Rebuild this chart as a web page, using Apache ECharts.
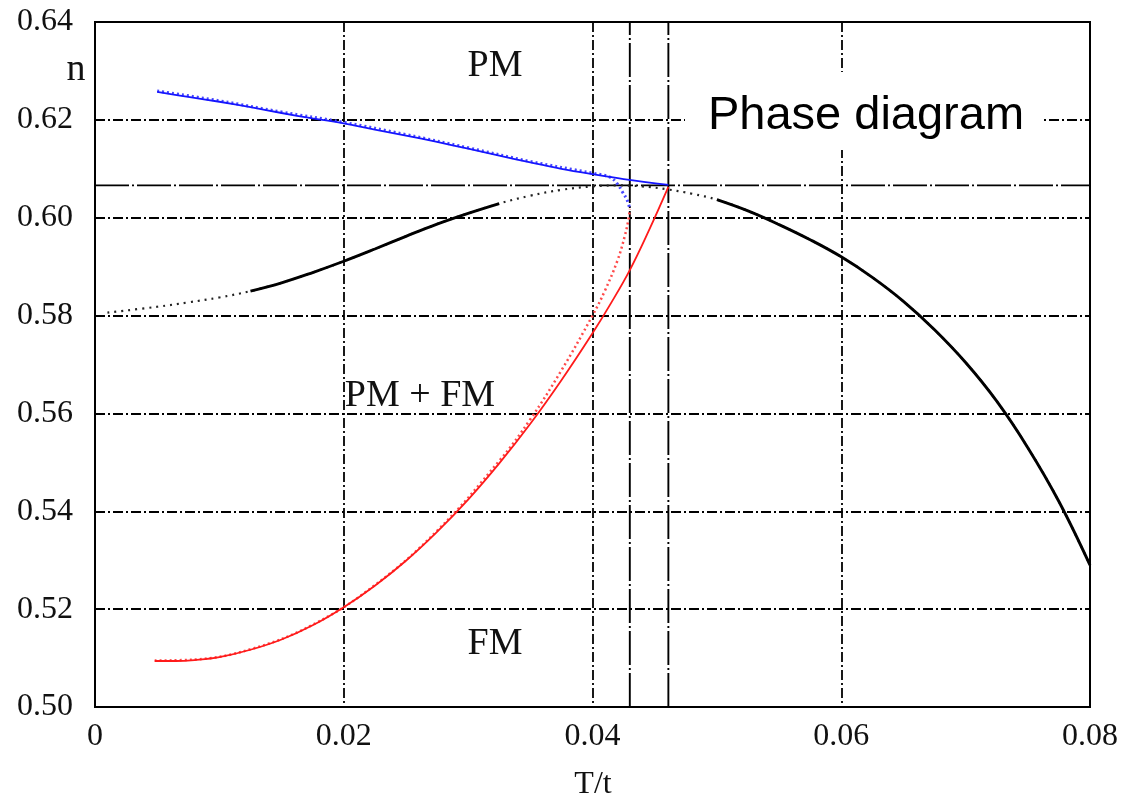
<!DOCTYPE html>
<html>
<head>
<meta charset="utf-8">
<title>Phase diagram</title>
<script src="https://cdn.jsdelivr.net/npm/echarts@6/dist/echarts.min.js"></script>
<style>
  html, body { margin: 0; padding: 0; background: #fff; }
  #chart { width: 1124px; height: 801px; }
</style>
</head>
<body>
<div id="chart"></div>
<script>
// Axis ticks
const xTicks = [0, 0.02, 0.04, 0.06, 0.08];
const yTicks = [0.50, 0.52, 0.54, 0.56, 0.58, 0.60, 0.62, 0.64];

// Black curve (T/t, n)
const blackT = [0.001, 0.005, 0.0075, 0.010, 0.0125, 0.015, 0.0175, 0.020, 0.0225, 0.025, 0.0275, 0.030,
                0.0325, 0.035, 0.0375, 0.040, 0.042, 0.044, 0.046, 0.048, 0.050, 0.0525, 0.055, 0.0575,
                0.060, 0.0625, 0.065, 0.0675, 0.070, 0.0725, 0.075, 0.0775, 0.080];
const blackN = [0.5806, 0.5818, 0.5827, 0.5837, 0.5850, 0.5867, 0.5888, 0.5911, 0.5936, 0.5962, 0.5987, 0.6009,
                0.6029, 0.6045, 0.6057, 0.6064, 0.6066, 0.6064, 0.6058, 0.6049, 0.6037, 0.6014, 0.5986, 0.5955,
                0.5920, 0.5878, 0.5829, 0.5771, 0.5704, 0.5625, 0.5530, 0.5420, 0.5290];
// T ranges where the black curve is drawn solid (dotted elsewhere)
const blackSolidRanges = [[0.0125, 0.0325], [0.050, 0.080]];

// Blue curve, solid branch
const blueT = [0.005, 0.0075, 0.010, 0.0125, 0.015, 0.0175, 0.020, 0.0225, 0.025, 0.0275, 0.030, 0.0325,
               0.035, 0.0375, 0.040, 0.0425, 0.0461];
const blueN = [0.6257, 0.6247, 0.6237, 0.6226, 0.6214, 0.6203, 0.6193, 0.6180, 0.6168, 0.6155, 0.6141, 0.6127,
               0.6113, 0.6100, 0.6089, 0.6079, 0.6067];
// Blue curve, dotted branch
const blueDotT = [0.005, 0.010, 0.015, 0.020, 0.025, 0.030, 0.035, 0.040, 0.0414, 0.0420, 0.0424, 0.0428, 0.0430];
const blueDotN = [0.6259, 0.6239, 0.6216, 0.6195, 0.6170, 0.6143, 0.6115, 0.6091, 0.6083, 0.6069, 0.6053, 0.6035, 0.6018];

// Red curve, solid branch
const redT = [0.0048, 0.0065, 0.008, 0.010, 0.0125, 0.015, 0.0175, 0.020, 0.0225, 0.025, 0.0275, 0.030,
              0.0325, 0.035, 0.0375, 0.040, 0.0415, 0.043, 0.0445, 0.0461];
const redN = [0.5094, 0.5094, 0.5096, 0.5102, 0.5117, 0.5138, 0.5167, 0.5204, 0.5248, 0.5299, 0.5358, 0.5424,
              0.5498, 0.5579, 0.5668, 0.5764, 0.5826, 0.5893, 0.5972, 0.6063];
// Red curve, dotted branch
const redDotT = [0.0048, 0.008, 0.0125, 0.0175, 0.0225, 0.0275, 0.0325, 0.035, 0.0375, 0.040, 0.041, 0.042, 0.0426, 0.0429, 0.0430];
const redDotN = [0.5095, 0.5097, 0.5118, 0.5168, 0.5249, 0.5360, 0.5503, 0.5588, 0.5688, 0.5800, 0.5851, 0.5912, 0.5963, 0.5998, 0.6018];

// Phase boundaries
const boundaryT = [0.0430, 0.0461];
const tangentN = [0.6066];

// Text
const regionLabels = ['PM', 'PM + FM', 'FM'];
const titleText = 'Phase diagram';
const xName = 'T/t';
const yName = 'n';

const zip = (xs, ys) => xs.map((x, i) => [x, ys[i]]);
const blackAll = zip(blackT, blackN);
const blackSolidSegments = blackSolidRanges.map(([a, b]) => blackAll.filter(p => p[0] >= a - 1e-9 && p[0] <= b + 1e-9));

const xMin = xTicks[0], xMax = xTicks[xTicks.length - 1];
const yMin = yTicks[0], yMax = yTicks[yTicks.length - 1];

const SERIF = '"Liberation Serif", "DejaVu Serif", serif';
const SANS = '"Liberation Sans", Arial, sans-serif';
const gridDash = [10, 3, 2, 3];
const longDash = [34, 3, 2, 3];

const chart = echarts.init(document.getElementById('chart'), null, { renderer: 'canvas' });

const boundaryStyle = { color: '#000', width: 1.9, type: longDash };
const series = [
  // phase boundary lines (vertical at boundaryT, horizontal at tangentN)
  ...boundaryT.map((t, i) => ({
    type: 'line', name: 'boundary-t-' + i, data: [[t, yMin], [t, yMax]], symbol: 'none',
    lineStyle: boundaryStyle, z: 2, silent: true
  })),
  ...tangentN.map((n, i) => ({
    type: 'line', name: 'boundary-n-' + i, data: [[xMin, n], [xMax, n]], symbol: 'none',
    lineStyle: boundaryStyle, z: 2, silent: true
  })),
  {
    type: 'line', name: 'black-dotted', data: blackAll, symbol: 'none', smooth: 0.4,
    lineStyle: { color: '#222', width: 2.2, type: [2, 5] }, z: 3, silent: true
  },
  ...blackSolidSegments.map((seg, i) => ({
    type: 'line', name: 'black-solid-' + i, data: seg, symbol: 'none', smooth: 0.4,
    lineStyle: { color: '#000', width: 2.9 }, z: 4, silent: true
  })),
  {
    type: 'line', name: 'blue-dotted', data: zip(blueDotT, blueDotN), symbol: 'none', smooth: 0.4,
    lineStyle: { color: '#4848ff', width: 3, type: [2, 3] }, z: 5, silent: true
  },
  {
    type: 'line', name: 'blue', data: zip(blueT, blueN), symbol: 'none', smooth: 0.4,
    lineStyle: { color: '#1515ff', width: 1.8 }, z: 6, silent: true
  },
  {
    type: 'line', name: 'red-dotted', data: zip(redDotT, redDotN), symbol: 'none', smooth: 0.4,
    lineStyle: { color: '#ff4a4a', width: 2.5, type: [2, 3] }, z: 5, silent: true
  },
  {
    type: 'line', name: 'red', data: zip(redT, redN), symbol: 'none', smooth: 0.4,
    lineStyle: { color: '#ff1a1a', width: 1.8 }, z: 6, silent: true
  }
];

const option = {
  animation: false,
  backgroundColor: '#fff',
  grid: { left: 95, right: 34, top: 22, bottom: 94, show: true, borderColor: '#000', borderWidth: 2, backgroundColor: 'transparent' },
  xAxis: {
    type: 'value', min: xMin, max: xMax, interval: xTicks[1] - xTicks[0],
    axisLine: { show: true, onZero: false, lineStyle: { color: '#000', width: 2 } },
    axisTick: { show: false },
    axisLabel: {
      margin: 14, color: '#111', fontFamily: SERIF, fontSize: 32,
      formatter: v => (Math.abs(v) < 1e-12 ? '0' : v.toFixed(2))
    },
    splitLine: { show: true, lineStyle: { color: '#000', width: 1.8, type: gridDash } }
  },
  yAxis: {
    type: 'value', min: yMin, max: yMax, interval: 0.02,
    axisLine: { show: true, onZero: false, lineStyle: { color: '#000', width: 2 } },
    axisTick: { show: false },
    axisLabel: { margin: 22, color: '#111', fontFamily: SERIF, fontSize: 32, formatter: v => v.toFixed(2) },
    splitLine: { show: true, lineStyle: { color: '#000', width: 1.8, type: gridDash } }
  },
  graphic: [
    { type: 'rect', z: 100, shape: { x: 685, y: 72, width: 358, height: 78 }, style: { fill: '#fff' } },
    { type: 'text', z: 101, x: 866, y: 116, style: { text: titleText, font: '47px ' + SANS, fill: '#000', align: 'center', verticalAlign: 'middle' } },
    { type: 'text', z: 101, x: 495, y: 66, style: { text: regionLabels[0], font: '38px ' + SERIF, fill: '#111', align: 'center', verticalAlign: 'middle' } },
    { type: 'text', z: 101, x: 420, y: 396, style: { text: regionLabels[1], font: '38px ' + SERIF, fill: '#111', align: 'center', verticalAlign: 'middle' } },
    { type: 'text', z: 101, x: 495, y: 644, style: { text: regionLabels[2], font: '38px ' + SERIF, fill: '#111', align: 'center', verticalAlign: 'middle' } },
    { type: 'text', z: 101, x: 76, y: 70, style: { text: yName, font: '38px ' + SERIF, fill: '#111', align: 'center', verticalAlign: 'middle' } },
    { type: 'text', z: 101, x: 593, y: 785, style: { text: xName, font: '32px ' + SERIF, fill: '#111', align: 'center', verticalAlign: 'middle' } }
  ],
  series
};

chart.setOption(option);
</script>
</body>
</html>
